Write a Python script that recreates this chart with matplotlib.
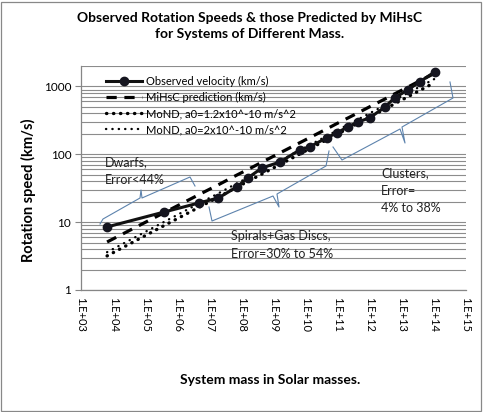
import numpy as np
import matplotlib
matplotlib.use("Agg")
import matplotlib.pyplot as plt
from matplotlib.ticker import FixedLocator, FixedFormatter, LogLocator, NullFormatter

plt.rcParams['font.family'] = ['Lato', 'DejaVu Sans']

# masses (solar masses) of the systems
mass = [6.5e3, 3.9e5, 4.8e6, 1.9e7, 7.2e7, 1.6e8, 4.4e8, 1.6e9, 6.6e9, 1.35e10,
        4.6e10, 9.5e10, 2.1e11, 4.3e11, 1.0e12, 3.0e12, 6.0e12, 1.55e13, 3.6e13, 1.07e14]

# rotation speeds (km/s)
v_observed = [8.5, 14.1, 19.2, 22.7, 33, 45, 63, 77, 116, 129,
              175, 207, 254, 300, 344, 500, 679, 891, 1169, 1641]
v_mihsc = [5.1, 13.8, 25.5, 35.5, 49.4, 59.8, 76.6, 105, 148, 176,
           237, 284, 343, 408, 502, 654, 778, 979, 1205, 1567]
v_mond_12 = [3.18, 8.9, 16.6, 23.3, 32.8, 39.8, 51.3, 70.8, 101, 121,
             164, 197, 240, 287, 355, 465, 556, 705, 871, 1142]
v_mond_20 = [3.61, 10.1, 18.9, 26.5, 37.3, 45.2, 58.3, 80.4, 115, 137,
             186, 224, 273, 326, 403, 528, 632, 801, 989, 1297]

labels = ['Observed velocity (km/s)', 'MiHsC prediction (km/s)',
          'MoND, a0=1.2x10^-10 m/s^2', 'MoND, a0=2x10^-10 m/s^2']

x_ticks = [10.0 ** k for k in range(3, 16)]
x_ticklabels = ['1.E+%02d' % k for k in range(3, 16)]
y_ticks = [1, 10, 100, 1000]
y_ticklabels = ['1', '10', '100', '1000']

W, H = 483, 412
fig = plt.figure(figsize=(W / 100, H / 100), dpi=100)

# plot area in pixels: left 81, right 466, top 66, bottom 290
L, R, T, B = 81, 466, 66, 290
ax = fig.add_axes([L / W, 1 - B / H, (R - L) / W, (B - T) / H])


def ap(px, py):
    # pixel position -> axes fraction
    return (px - L) / (R - L), (B - py) / (B - T)


grid_c = '#8c8c8c'
ax.set_xscale('log')
ax.set_yscale('log')
ax.set_xlim(1e3, 1e15)
ax.set_ylim(1, 2000)

ax.yaxis.set_major_locator(FixedLocator(y_ticks))
ax.yaxis.set_major_formatter(FixedFormatter(y_ticklabels))
ax.yaxis.set_minor_locator(LogLocator(base=10, subs=np.arange(2, 10)))
ax.yaxis.set_minor_formatter(NullFormatter())
ax.xaxis.set_major_locator(FixedLocator(x_ticks))
ax.xaxis.set_major_formatter(FixedFormatter(x_ticklabels))
ax.xaxis.set_minor_locator(FixedLocator([]))

ax.grid(True, axis='y', which='both', color=grid_c, lw=0.8)
ax.set_axisbelow(True)
for s in ['top', 'right']:
    ax.spines[s].set_visible(False)
for s in ['left', 'bottom']:
    ax.spines[s].set_color('#868686')
    ax.spines[s].set_linewidth(0.9)

ax.tick_params(axis='y', which='major', length=4, color='#868686', labelsize=8.5, pad=3)
ax.tick_params(axis='y', which='minor', length=0)
ax.tick_params(axis='x', which='major', length=0, labelsize=8, pad=5)
for t in ax.get_xticklabels():
    t.set_rotation(270)

# series
ax.plot(mass, v_observed, '-', color='#111111', lw=2.2, marker='o', ms=6,
        mfc='#15151f', mec='#15151f', label=labels[0], zorder=5)
ax.plot(mass, v_mihsc, color='black', lw=2.3, dashes=(3.2, 2.4), label=labels[1], zorder=4)
ax.plot(mass, v_mond_12, color='black', lw=2.4, linestyle=(0, (0.1, 2.0)),
        dash_capstyle='round', label=labels[2], zorder=3)
ax.plot(mass, v_mond_20, color='black', lw=1.7, linestyle=(0, (0.1, 2.6)),
        dash_capstyle='round', label=labels[3], zorder=3)

ax.legend(loc='upper left', bbox_to_anchor=ap(106, 76), frameon=False, fontsize=8,
          borderpad=0, borderaxespad=0, handlelength=3.2, handletextpad=0.4,
          labelspacing=0.45)

# braces around the groups
brace_c = '#5d83ad'
braces = [
    [(100, 224), (103, 219), (140, 198), (141, 190), (142, 198), (190, 177), (195, 186)],
    [(209, 207), (212, 221), (273, 196), (279, 207), (277, 194), (326, 166), (329, 151)],
    [(333, 147), (342, 160), (400, 129), (405, 143), (402, 127), (453, 98), (450, 82)],
]
for br in braces:
    pts = [ap(px, py) for px, py in br]
    ax.plot([p[0] for p in pts], [p[1] for p in pts], color=brace_c, lw=0.8,
            transform=ax.transAxes, clip_on=False, zorder=2)

txt_kw = dict(transform=ax.transAxes, fontsize=9, va='center', ha='left',
              color='#222222', linespacing=1.55)
ax.text(*ap(105, 171), 'Dwarfs,\nError<44%', **txt_kw)
ax.text(*ap(231, 245), 'Spirals+Gas Discs,\nError=30% to 54%', **txt_kw)
ax.text(*ap(381, 191), 'Clusters,\nError=\n4% to 38%', **txt_kw)

fig.text(250 / W, 1 - 26 / H,
         'Observed Rotation Speeds & those Predicted by MiHsC\nfor Systems of Different Mass.',
         ha='center', va='center', fontsize=10, fontweight='bold', linespacing=1.5)
fig.text(270 / W, 1 - 380 / H, 'System mass in Solar masses.', ha='center', va='center',
         fontsize=10, fontweight='bold')
fig.text(28 / W, 1 - 190 / H, 'Rotation speed (km/s)', ha='center', va='center',
         rotation=90, fontsize=10.5, fontweight='bold')

# outer chart border
fig.patches.append(plt.Rectangle((1 / W, 1 / H), 1 - 3 / W, 1 - 3 / H, transform=fig.transFigure,
                                 fill=False, edgecolor='#888888', lw=0.9))

fig.savefig('out.png', dpi=100)
